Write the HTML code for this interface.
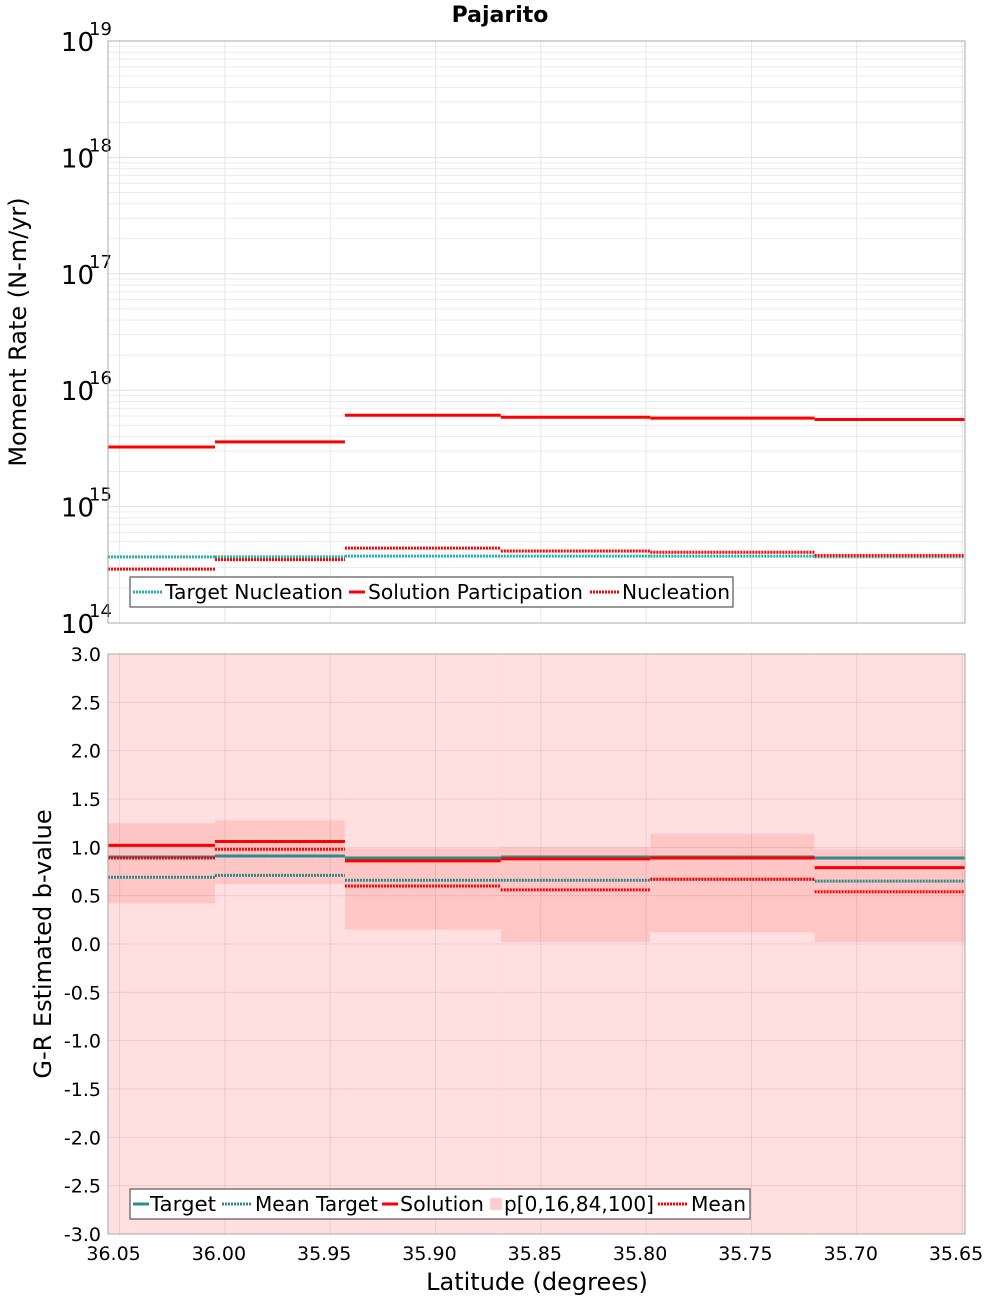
<!DOCTYPE html>
<html><head><meta charset="utf-8"><style>
body{margin:0;background:#fff;font-family:"DejaVu Sans","Liberation Sans",sans-serif}
svg text{font-family:"DejaVu Sans","Liberation Sans",sans-serif}
</style></head><body>
<svg id="c" width="1000" height="1300" xmlns="http://www.w3.org/2000/svg"></svg>
<script>
const binEdges=[36.0555,36.0047,35.943,35.869,35.798,35.720,35.6486];
const targetNuc=[3.7e14,3.7e14,3.75e14,3.75e14,3.75e14,3.7e14];
const solPart=[3.25e15,3.6e15,6.1e15,5.85e15,5.75e15,5.6e15];
const nucl=[2.9e14,3.5e14,4.4e14,4.15e14,4.05e14,3.8e14];
const bTarget=[0.9,0.91,0.89,0.9,0.9,0.89];
const bMeanTarget=[0.69,0.71,0.66,0.66,0.67,0.65];
const bSol=[1.02,1.06,0.86,0.88,0.89,0.79];
const bMean=[0.89,0.98,0.6,0.56,0.67,0.54];
const p16=[0.42,0.62,0.15,0.02,0.12,0.02];
const p84=[1.25,1.28,0.99,1.0,1.14,0.98];
const p0=[-3,-3,-3,-3,-3,-3];
const p100=[3,3,3,3,3,3];
const xTicks=[36.05,36.00,35.95,35.90,35.85,35.80,35.75,35.70,35.65];
const yTicksB=[3,2.5,2,1.5,1,0.5,0,-0.5,-1,-1.5,-2,-2.5,-3];
const decades=[14,15,16,17,18,19];

const S=document.getElementById('c');const NS='http://www.w3.org/2000/svg';
function el(t,a,txt){const e=document.createElementNS(NS,t);for(const k in a)e.setAttribute(k,a[k]);if(txt!==undefined)e.textContent=txt;S.appendChild(e);return e;}
const L=108,R=965;
const X=v=>L+(36.0555-v)/(36.0555-35.6486)*(R-L);
const T0=41,T1=623,B0=654,B1=1234;
const YT=v=>T1-(Math.log10(v)-14)/5*(T1-T0);
const YB=v=>B1-(v+3)/6*(B1-B0);

let t=el('text',{x:500,y:22,'text-anchor':'middle','font-size':22,'font-weight':'bold'},'Pajarito');


let bg=el('rect',{x:L,y:T0,width:R-L,height:T1-T0,fill:'#fff'});

for(let d=14;d<19;d++)for(let m=2;m<=9;m++){let y=YT(m*Math.pow(10,d));let g=el('line',{x1:L,x2:R,y1:y,y2:y,stroke:'#ececec'});}
decades.forEach(d=>{let y=YT(Math.pow(10,d));let g=el('line',{x1:L,x2:R,y1:y,y2:y,stroke:'#e0e0e0'});
 let a=el('text',{x:94,y:y+10,'text-anchor':'end','font-size':26},'10');
 let b=el('text',{x:89,y:y-6,'font-size':18},String(d));});
xTicks.forEach(v=>{let g=el('line',{x1:X(v),x2:X(v),y1:T0,y2:T1,stroke:'#e6e6e6'});});
function steps(arr,Y,col,w,dash,name){for(let i=0;i<arr.length;i++){let ln=el('line',{x1:X(binEdges[i]),x2:X(binEdges[i+1]),y1:Y(arr[i]),y2:Y(arr[i]),stroke:col,'stroke-width':w});if(dash)ln.setAttribute('stroke-dasharray',dash);
 }}
steps(targetNuc,YT,'#20b2aa',3,'2,1','target-nucleation');
steps(solPart,YT,'#ff0000',3,null,'solution-participation');
steps(nucl,YT,'#ff0000',3,'2,1','nucleation');
let fr=el('rect',{x:L,y:T0,width:R-L,height:T1-T0,fill:'none',stroke:'#aaa'});
let yt=el('text',{x:0,y:0,'font-size':24,'text-anchor':'middle',transform:'translate(26,332) rotate(-90)'},'Moment Rate (N-m/yr)');
function legend(x,y,w,items,name){let r=el('rect',{x:x,y:y,width:w,height:30,fill:'#fff',stroke:'#555','stroke-width':1.2});
 items.forEach(it=>{if(it.box){let b=el('rect',{x:it.lx,y:y+9,width:12,height:12,fill:'#ffcdcd'});}
 else{let l=el('line',{x1:it.lx,x2:it.lx+it.ll,y1:y+15,y2:y+15,stroke:it.c,'stroke-width':3});if(it.d)l.setAttribute('stroke-dasharray',it.d);}
 let tx=el('text',{x:it.tx,y:y+22,'font-size':20,textLength:it.tw,lengthAdjust:'spacingAndGlyphs'},it.t);});}
legend(130,577,603,[{t:'Target Nucleation',c:'#20b2aa',d:'2,1',lx:133,ll:30,tx:165,tw:178},{t:'Solution Participation',c:'#f00',lx:349,ll:16,tx:368,tw:215},{t:'Nucleation',c:'#f00',d:'2,1',lx:590,ll:30,tx:622,tw:108}],'moment-legend');

let bg2=el('rect',{x:L,y:B0,width:R-L,height:B1-B0,fill:'#fff'});
for(let i=0;i<6;i++){let x1=X(binEdges[i]),x2=X(binEdges[i+1]);
 let a=el('rect',{x:x1,y:YB(p100[i]),width:x2-x1,height:YB(p0[i])-YB(p100[i]),fill:'#ffdfdf'});
 let b=el('rect',{x:x1,y:YB(p84[i]),width:x2-x1,height:YB(p16[i])-YB(p84[i]),fill:'#ffc6c6'});}
yTicksB.forEach(v=>{let y=YB(v);let g=el('line',{x1:L,x2:R,y1:y,y2:y,stroke:'rgba(0,0,0,0.08)'});
 let a=el('text',{x:101,y:y+7,'text-anchor':'end','font-size':19},v.toFixed(1));});
xTicks.forEach(v=>{let g=el('line',{x1:X(v),x2:X(v),y1:B0,y2:B1,stroke:'rgba(0,0,0,0.08)'});
 let a=el('text',{x:X(v)-6,y:1260,'text-anchor':'middle','font-size':19},v.toFixed(2));});
steps(bTarget,YB,'#2e8b8b',3,null,'target-b');
steps(bMeanTarget,YB,'#2e8b8b',3,'2,1','mean-target-b');
steps(bSol,YB,'#ff0000',3,null,'solution-b');
steps(bMean,YB,'#ff0000',3,'2,1','mean-b');
let fr2=el('rect',{x:L,y:B0,width:R-L,height:B1-B0,fill:'none',stroke:'#aaa'});
let yt2=el('text',{x:0,y:0,'font-size':24,'text-anchor':'middle',transform:'translate(51,944) rotate(-90)'},'G-R Estimated b-value');
let xt=el('text',{x:537,y:1290,'font-size':24,'text-anchor':'middle'},'Latitude (degrees)');
legend(130,1189,620,[{t:'Target',c:'#2e8b8b',lx:133,ll:16,tx:150,tw:66},{t:'Mean Target',c:'#2e8b8b',d:'2,1',lx:222,ll:30,tx:255,tw:123},{t:'Solution',c:'#f00',lx:382,ll:16,tx:400,tw:84},{t:'p[0,16,84,100]',box:1,lx:490,tx:504,tw:150},{t:'Mean',c:'#f00',d:'2,1',lx:658,ll:30,tx:691,tw:55}],'bvalue-legend');
</script>
</body></html>
